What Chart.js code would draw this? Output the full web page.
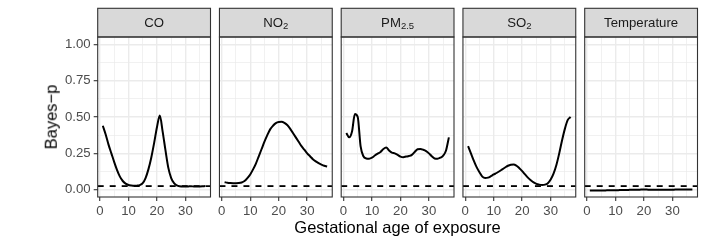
<!DOCTYPE html>
<html>
<head>
<meta charset="utf-8">
<script src="https://cdn.jsdelivr.net/npm/chart.js@4.4.1/dist/chart.umd.min.js"></script>
<style>
  body { margin: 0; background: #fff; width: 706px; height: 245px; overflow: hidden; position: relative;
         font-family: "Liberation Sans", Arial, Helvetica, sans-serif; }
  canvas { position: absolute; left: 0; top: 0; }
  .ttl { position: absolute; font-size: 16.5px; line-height: 1; color: #000; white-space: nowrap;
         transform: translate(-50%, -50%); }
  #ytitle { transform: translate(-50%, -50%) rotate(-90deg); }
</style>
</head>
<body>
<canvas id="c0" width="706" height="245"></canvas>
<canvas id="c1" width="706" height="245"></canvas>
<canvas id="c2" width="706" height="245"></canvas>
<canvas id="c3" width="706" height="245"></canvas>
<canvas id="c4" width="706" height="245"></canvas>
<div class="ttl" id="xtitle" style="left:397.5px;top:227px">Gestational age of exposure</div>
<div class="ttl" id="ytitle" style="left:50.5px;top:117px">Bayes−p</div>
<script>
// ----- data -----
const WEEKS = [1,2,3,4,5,6,7,8,9,10,11,12,13,14,15,16,17,18,19,20,21,22,23,24,25,26,27,28,29,30,31,32,33,34,35,36,37];

const STRIP_MAIN = ['CO', 'NO', 'PM', 'SO', 'Temperature'];
const STRIP_SUB  = ['',   '2',  '2.5', '2', ''];

const CO   = [0.44,0.38,0.31,0.25,0.19,0.135,0.09,0.06,0.042,0.033,0.029,0.027,0.028,0.032,0.045,0.08,0.14,0.22,0.32,0.43,0.51,0.40,0.27,0.15,0.08,0.045,0.03,0.024,0.022,0.022,0.023,0.024,0.022,0.022,0.023,0.024,0.025];
const NO2  = [0.052,0.048,0.046,0.045,0.045,0.046,0.05,0.06,0.08,0.105,0.14,0.18,0.23,0.28,0.33,0.375,0.415,0.44,0.458,0.466,0.467,0.46,0.445,0.42,0.39,0.36,0.33,0.30,0.275,0.25,0.23,0.21,0.195,0.183,0.173,0.165,0.16];
const PM25 = [0.39,0.36,0.40,0.52,0.50,0.30,0.23,0.215,0.213,0.22,0.235,0.248,0.26,0.28,0.29,0.27,0.255,0.25,0.24,0.228,0.224,0.228,0.232,0.24,0.26,0.278,0.28,0.275,0.266,0.25,0.23,0.215,0.213,0.22,0.235,0.27,0.36];
const SO2  = [0.30,0.25,0.20,0.155,0.12,0.09,0.08,0.083,0.093,0.105,0.115,0.127,0.14,0.153,0.165,0.172,0.174,0.165,0.148,0.128,0.105,0.083,0.065,0.05,0.04,0.035,0.033,0.035,0.045,0.07,0.11,0.17,0.25,0.34,0.42,0.48,0.50];
const TEMP = [-0.006,-0.006,-0.006,-0.005,-0.005,-0.005,-0.004,-0.004,-0.003,-0.003,-0.003,-0.002,-0.002,-0.002,-0.001,-0.001,0,0,0.001,0.001,0.001,0,0,0,0,0,0,0,0,0,0.001,0.001,0.001,0.001,0.002,0.002,0.002];
const SERIES = [CO, NO2, PM25, SO2, TEMP];

const THRESHOLD = 0.025;
const X_TICKS  = [0,5,10,15,20,25,30,35];
const X_LABELS = [0,10,20,30];
const Y_TICKS  = [0,0.125,0.25,0.375,0.5,0.625,0.75,0.875,1];
const Y_LABELS = [0,0.25,0.5,0.75,1];
const X_MIN = -0.8, X_MAX = 38.8, Y_MIN = -0.05, Y_MAX = 1.05;

// ----- layout -----
const PANEL_X0 = 97.7, PANEL_STEP = 121.75, PANEL_W = 112.8;
const PANEL_TOP = 37, PANEL_BOTTOM = 197, STRIP_TOP = 8.3;
const FONT = '"Liberation Sans", Arial, Helvetica, sans-serif';

const isMajor = (v, list) => list.some(m => Math.abs(m - v) < 1e-9);

const panelFrame = {
  id: 'panelFrame',
  afterDraw(chart, args, opts) {
    const {ctx, chartArea: a} = chart;
    ctx.save();
    // strip
    ctx.fillStyle = '#D9D9D9';
    ctx.fillRect(a.left, STRIP_TOP, a.right - a.left, a.top - STRIP_TOP);
    ctx.strokeStyle = '#333333';
    ctx.lineWidth = 1.1;
    ctx.strokeRect(a.left, STRIP_TOP, a.right - a.left, a.top - STRIP_TOP);
    // strip label with optional subscript
    const main = STRIP_MAIN[opts.idx], sub = STRIP_SUB[opts.idx];
    ctx.font = '13.2px ' + FONT;
    const wMain = ctx.measureText(main).width;
    ctx.font = '9.5px ' + FONT;
    const wSub = sub ? ctx.measureText(sub).width : 0;
    const x0 = (a.left + a.right) / 2 - (wMain + wSub) / 2;
    const base = 27.4;
    ctx.fillStyle = '#1A1A1A';
    ctx.textBaseline = 'alphabetic';
    ctx.textAlign = 'left';
    ctx.font = '13.2px ' + FONT;
    ctx.fillText(main, x0, base);
    if (sub) {
      ctx.font = '9.5px ' + FONT;
      ctx.fillText(sub, x0 + wMain, base + 2);
    }
    // panel border
    ctx.strokeRect(a.left, a.top, a.right - a.left, a.bottom - a.top);
    ctx.restore();
  }
};

function makePanel(i) {
  const left = PANEL_X0 + i * PANEL_STEP;
  const first = i === 0;
  return new Chart(document.getElementById('c' + i), {
    type: 'line',
    data: {
      datasets: [
        {
          data: WEEKS.map((w, k) => ({x: w, y: SERIES[i][k]})),
          borderColor: '#000', borderWidth: 2, pointRadius: 0,
          cubicInterpolationMode: 'monotone', fill: false
        },
        {
          data: [{x: X_MIN, y: THRESHOLD}, {x: X_MAX, y: THRESHOLD}],
          borderColor: '#000', borderWidth: 1.8, borderDash: [6, 6], pointRadius: 0, fill: false
        }
      ]
    },
    options: {
      responsive: false, animation: false, events: [],
      layout: { padding: { left: first ? 0 : left, right: 706 - left - PANEL_W, top: PANEL_TOP, bottom: 0 } },
      plugins: { legend: { display: false }, tooltip: { enabled: false }, panelFrame: { idx: i } },
      scales: {
        x: {
          type: 'linear', min: X_MIN, max: X_MAX,
          afterBuildTicks: s => { s.ticks = X_TICKS.map(v => ({value: v})); },
          afterFit: s => { s.height = 245 - PANEL_BOTTOM; },
          border: { display: false },
          grid: {
            color: '#EBEBEB',
            lineWidth: c => isMajor(c.tick.value, X_LABELS) ? 1.4 : 0.7,
            tickLength: 4, tickWidth: 1.1,
            tickColor: c => isMajor(c.tick.value, X_LABELS) ? '#333333' : 'rgba(0,0,0,0)'
          },
          ticks: {
            autoSkip: false, maxRotation: 0, padding: 2, color: '#4D4D4D',
            font: { size: 13.2, family: FONT },
            callback: v => isMajor(v, X_LABELS) ? String(v) : ''
          }
        },
        y: {
          type: 'linear', min: Y_MIN, max: Y_MAX,
          afterBuildTicks: s => { s.ticks = Y_TICKS.map(v => ({value: v})); },
          afterFit: s => { s.width = first ? left : 0; },
          border: { display: false },
          grid: {
            color: '#EBEBEB',
            lineWidth: c => isMajor(c.tick.value, Y_LABELS) ? 1.4 : 0.7,
            drawTicks: first, tickLength: 4, tickWidth: 1.1,
            tickColor: c => isMajor(c.tick.value, Y_LABELS) ? '#333333' : 'rgba(0,0,0,0)'
          },
          ticks: {
            display: first, padding: 3, color: '#4D4D4D',
            font: { size: 13.2, family: FONT },
            callback: v => isMajor(v, Y_LABELS) ? v.toFixed(2) : ''
          }
        }
      }
    },
    plugins: [panelFrame]
  });
}

for (let i = 0; i < 5; i++) makePanel(i);
</script>
</body>
</html>
